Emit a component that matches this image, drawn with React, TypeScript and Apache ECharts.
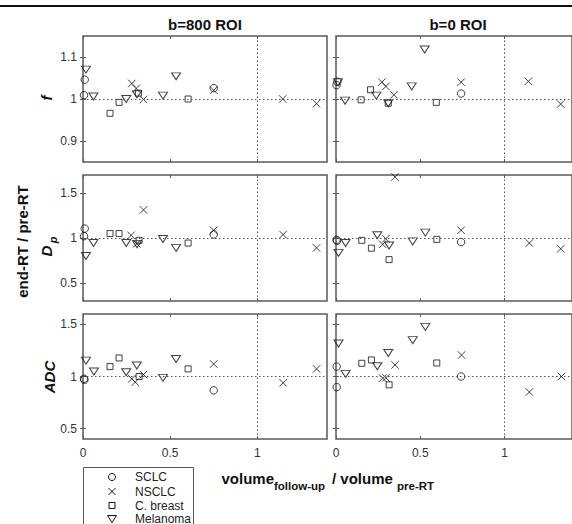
import React, { useEffect, useRef } from 'react';
import * as echarts from 'echarts';

// ---- labels / ticks ----
const columnTitles = ['b=800 ROI', 'b=0 ROI'];
const groups = ['SCLC', 'NSCLC', 'C. breast', 'Melanoma'];
const xTicks = [0, 0.5, 1];
const xRange = [0, 1.4];
const fRange = [0.85, 1.15];
const fTicks = [0.9, 1, 1.1];
const dpRange = [0.3, 1.7];
const dpTicks = [0.5, 1, 1.5];
const adcRange = [0.4, 1.6];
const adcTicks = [0.5, 1, 1.5];

// ---- data: [volume ratio, parameter ratio] ----
// f, b=800 ROI
const f800SCLC = [[0.01, 1.046], [0.006, 1.009], [0.75, 1.026]];
const f800NSCLC = [[0.28, 1.037], [0.305, 1.025], [0.347, 0.999], [0.75, 1.021], [1.146, 1.0], [1.34, 0.989]];
const f800Breast = [[0.155, 0.966], [0.207, 0.992], [0.318, 1.014], [0.603, 1.0]];
const f800Mel = [[0.017, 1.07], [0.06, 1.006], [0.248, 1.0], [0.31, 1.011], [0.459, 1.008], [0.534, 1.054]];
// f, b=0 ROI
const f0SCLC = [[0.003, 1.033], [0.008, 1.041], [0.742, 1.013]];
const f0NSCLC = [[0.272, 1.04], [0.296, 1.03], [0.344, 1.01], [0.742, 1.04], [1.141, 1.042], [1.333, 0.988]];
const f0Breast = [[0.149, 0.998], [0.205, 1.022], [0.31, 0.99], [0.595, 0.992]];
const f0Mel = [[0.012, 1.04], [0.054, 0.996], [0.239, 1.008], [0.31, 0.99], [0.449, 1.03], [0.526, 1.118]];
// Dp, b=800 ROI
const dp800SCLC = [[0.01, 1.105], [0.006, 1.02], [0.75, 1.04]];
const dp800NSCLC = [[0.276, 1.03], [0.347, 1.312], [0.309, 0.936], [0.75, 1.086], [1.148, 1.038], [1.34, 0.89]];
const dp800Breast = [[0.155, 1.049], [0.207, 1.049], [0.322, 0.974], [0.603, 0.944]];
const dp800Mel = [[0.017, 0.8], [0.06, 0.944], [0.248, 0.944], [0.31, 0.93], [0.459, 0.989], [0.534, 0.89]];
// Dp, b=0 ROI
const dp0SCLC = [[0.003, 0.98], [0.006, 0.97], [0.742, 0.955]];
const dp0NSCLC = [[0.35, 1.677], [0.296, 0.992], [0.277, 0.929], [0.742, 1.086], [1.147, 0.944], [1.333, 0.88]];
const dp0Breast = [[0.153, 0.974], [0.21, 0.887], [0.315, 0.76], [0.598, 0.985]];
const dp0Mel = [[0.015, 0.835], [0.057, 0.944], [0.245, 1.03], [0.315, 0.917], [0.455, 0.962], [0.53, 1.06]];
// ADC, b=800 ROI
const adc800SCLC = [[0.006, 0.978], [0.008, 0.968], [0.75, 0.867]];
const adc800NSCLC = [[0.28, 0.978], [0.3, 0.946], [0.347, 1.019], [0.75, 1.12], [1.148, 0.94], [1.34, 1.073]];
const adc800Breast = [[0.155, 1.095], [0.207, 1.178], [0.322, 1.0], [0.603, 1.073]];
const adc800Mel = [[0.017, 1.152], [0.063, 1.048], [0.248, 1.041], [0.309, 1.105], [0.459, 0.987], [0.534, 1.168]];
// ADC, b=0 ROI
const adc0SCLC = [[0.004, 1.095], [0.004, 0.898], [0.742, 1.0]];
const adc0NSCLC = [[0.35, 1.111], [0.277, 0.984], [0.296, 0.987], [0.745, 1.206], [1.147, 0.851], [1.338, 1.0]];
const adc0Breast = [[0.153, 1.127], [0.21, 1.159], [0.315, 0.92], [0.598, 1.13]];
const adc0Mel = [[0.015, 1.317], [0.057, 1.025], [0.245, 1.098], [0.31, 1.225], [0.455, 1.349], [0.53, 1.476]];

const panelData = [
  [[f800SCLC, f800NSCLC, f800Breast, f800Mel], [f0SCLC, f0NSCLC, f0Breast, f0Mel]],
  [[dp800SCLC, dp800NSCLC, dp800Breast, dp800Mel], [dp0SCLC, dp0NSCLC, dp0Breast, dp0Mel]],
  [[adc800SCLC, adc800NSCLC, adc800Breast, adc800Mel], [adc0SCLC, adc0NSCLC, adc0Breast, adc0Mel]],
];
const rowRanges = [fRange, dpRange, adcRange];
const rowTicks = [fTicks, dpTicks, adcTicks];

// ---- layout / style ----
const FONT = '"Liberation Sans", Arial, sans-serif';
const colLeft = [83, 336];
const rowTop = [36, 175, 314];
const rowHeight = [126, 126, 125];
const panelWidth = 244;
const frameColor = '#5a5a5a';
const markColor = '#111';
const symbols = [
  { symbol: 'circle', size: 7.5, rotate: 0 },
  { symbol: 'path://M0,0L10,10M10,0L0,10', size: 7.5, rotate: 0 },
  { symbol: 'rect', size: 6, rotate: 0 },
  { symbol: 'triangle', size: [9, 7], rotate: 180 },
];

function buildOption() {
  const grid: any[] = [];
  const xAxis: any[] = [];
  const yAxis: any[] = [];
  const series: any[] = [];
  const tickStyle = { inside: true, length: 3, lineStyle: { color: frameColor, width: 1 } };
  for (let r = 0; r < 3; r++) {
    for (let c = 0; c < 2; c++) {
      const gi = r * 2 + c;
      grid.push({
        left: colLeft[c], top: rowTop[r], width: panelWidth, height: rowHeight[r],
        show: true, borderColor: frameColor, borderWidth: 1.5, backgroundColor: 'transparent',
      });
      xAxis.push({
        gridIndex: gi, type: 'value', min: xRange[0], max: xRange[1], position: 'bottom',
        axisLine: { show: false }, splitLine: { show: false },
        axisTick: { ...tickStyle, customValues: xTicks },
        axisLabel: { show: r === 2, customValues: xTicks, margin: 8, fontSize: 12, color: '#333', fontFamily: FONT },
      });
      xAxis.push({
        gridIndex: gi, type: 'value', min: xRange[0], max: xRange[1], position: 'top',
        axisLine: { show: false }, splitLine: { show: false },
        axisTick: { ...tickStyle, customValues: xTicks },
        axisLabel: { show: false },
      });
      yAxis.push({
        gridIndex: gi, type: 'value', min: rowRanges[r][0], max: rowRanges[r][1], position: 'left',
        axisLine: { show: false }, splitLine: { show: false },
        axisTick: { ...tickStyle, customValues: rowTicks[r] },
        axisLabel: { show: c === 0, customValues: rowTicks[r], margin: 6, fontSize: 12, color: '#333', fontFamily: FONT },
      });
      yAxis.push({
        gridIndex: gi, type: 'value', min: rowRanges[r][0], max: rowRanges[r][1], position: 'right',
        axisLine: { show: false }, splitLine: { show: false },
        axisTick: { ...tickStyle, customValues: rowTicks[r] },
        axisLabel: { show: false },
      });
      panelData[r][c].forEach((pts, k) => {
        const s: any = {
          type: 'scatter', name: groups[k], xAxisIndex: gi * 2, yAxisIndex: gi * 2,
          data: pts, symbol: symbols[k].symbol, symbolSize: symbols[k].size, symbolRotate: symbols[k].rotate,
          itemStyle: { color: 'rgba(0,0,0,0)', borderColor: markColor, borderWidth: 1 },
          emphasis: { disabled: true }, silent: true,
        };
        if (k === 0) {
          s.markLine = {
            silent: true, symbol: 'none', label: { show: false },
            lineStyle: { type: [1.5, 2.5], color: '#555', width: 1 },
            data: [{ yAxis: 1 }, { xAxis: 1 }],
          };
        }
        series.push(s);
      });
    }
  }

  const text = (t: string, x: number, y: number, size: number, opts: any = {}) => ({
    type: 'text', x, y, rotation: opts.rotation || 0, silent: true,
    style: {
      text: t, x: 0, y: 0, fill: opts.fill || '#111', fontFamily: FONT, fontSize: size,
      fontWeight: opts.weight || 'bold', fontStyle: opts.italic ? 'italic' : 'normal',
      align: opts.align || 'center', verticalAlign: 'middle',
      textAlign: opts.align || 'center', textVerticalAlign: 'middle',
    },
  });

  // legend (drawn as graphic)
  const lx = 112;
  const ly = [477, 491.5, 505.5, 519];
  const tx = 135;
  const stroke = { stroke: markColor, lineWidth: 1, fill: 'none' };
  const legendEls: any[] = [
    { type: 'rect', silent: true, shape: { x: 83.5, y: 467.5, width: 110, height: 70 }, style: { stroke: '#555', lineWidth: 1, fill: '#fff' } },
    { type: 'circle', silent: true, shape: { cx: lx, cy: ly[0], r: 3.5 }, style: stroke },
    { type: 'line', silent: true, shape: { x1: lx - 3.5, y1: ly[1] - 3.5, x2: lx + 3.5, y2: ly[1] + 3.5 }, style: stroke },
    { type: 'line', silent: true, shape: { x1: lx + 3.5, y1: ly[1] - 3.5, x2: lx - 3.5, y2: ly[1] + 3.5 }, style: stroke },
    { type: 'rect', silent: true, shape: { x: lx - 3, y: ly[2] - 3, width: 6, height: 6 }, style: stroke },
    { type: 'polygon', silent: true, shape: { points: [[lx - 4.5, ly[3] - 3.5], [lx + 4.5, ly[3] - 3.5], [lx, ly[3] + 3.5]] }, style: stroke },
  ];
  groups.forEach((g, i) => legendEls.push(text(g, tx, ly[i], 12, { align: 'left', weight: 'normal', fill: '#222' })));

  const graphic = [
    { type: 'line', silent: true, shape: { x1: 0, y1: 6, x2: 572, y2: 6 }, style: { stroke: '#111', lineWidth: 2 } },
    text(columnTitles[0], 205, 24, 15),
    text(columnTitles[1], 458, 24, 15),
    text('end-RT / pre-RT', 22.5, 241.5, 15, { rotation: Math.PI / 2 }),
    text('f', 46, 98, 15, { rotation: Math.PI / 2, italic: true }),
    text('D', 46.5, 251, 15, { rotation: Math.PI / 2, italic: true }),
    text('p', 52.5, 240, 11, { rotation: Math.PI / 2, italic: true }),
    text('ADC', 49, 377, 15, { rotation: Math.PI / 2, italic: true }),
    text('volume', 221.5, 478, 15, { align: 'left' }),
    text('follow-up', 274, 486, 11.5, { align: 'left' }),
    text('/ volume', 332, 478, 15, { align: 'left' }),
    text('pre-RT', 397, 486, 11.5, { align: 'left' }),
    ...legendEls,
  ];

  return {
    animation: false,
    grid, xAxis, yAxis, series, graphic,
  };
}

export default function App() {
  const ref = useRef<HTMLDivElement>(null);
  useEffect(() => {
    if (!ref.current) return;
    const chart = echarts.init(ref.current, null, { renderer: 'svg' });
    chart.setOption(buildOption() as any);
    return () => chart.dispose();
  }, []);
  return (
    <div
      ref={ref}
      style={{ position: 'absolute', left: 0, top: 0, width: 572, height: 524, background: '#fff', overflow: 'hidden' }}
    />
  );
}
